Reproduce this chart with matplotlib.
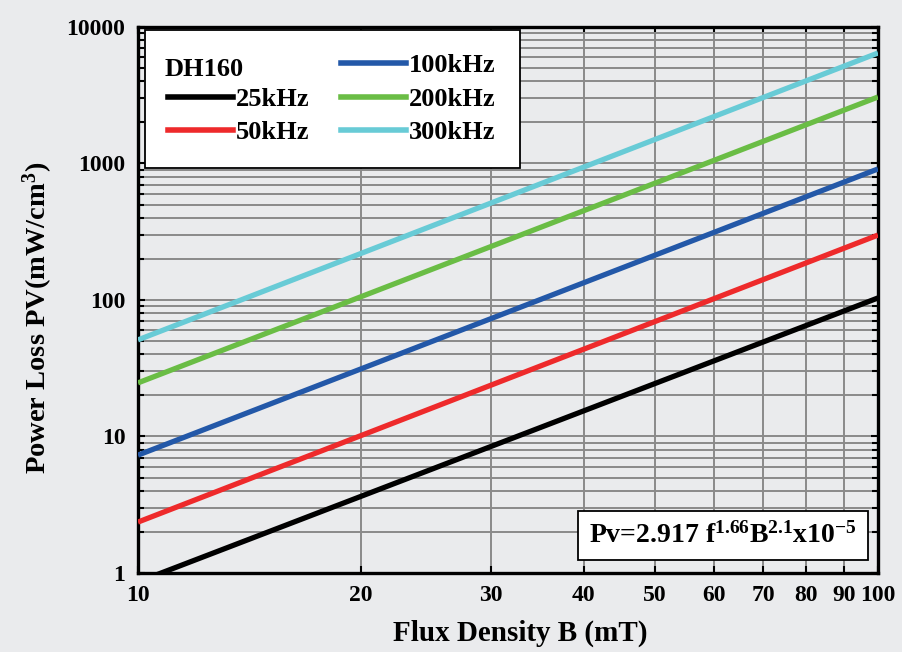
import matplotlib
matplotlib.use("Agg")
import numpy as np
import matplotlib.pyplot as plt
from matplotlib.lines import Line2D
from matplotlib.ticker import FixedLocator, FixedFormatter, NullLocator, LogLocator


# =========================================================
# Data
# =========================================================

flux_ends = [10, 100]

freq_labels = ["25kHz", "50kHz", "100kHz", "200kHz", "300kHz"]

loss_at_10 = [0.86, 2.36, 7.3, 24.7, 51]

loss_at_100 = [103.5, 299, 912, 3070, 6450]

line_colors = ["#000000", "#ee2a2b", "#2358a8", "#6abd45", "#68cbd6"]

x_ticks = [10, 20, 30, 40, 50, 60, 70, 80, 90, 100]

y_ticks = [1, 10, 100, 1000, 10000]


# =========================================================
# Style
# =========================================================

plt.rcParams["font.family"] = ["Liberation Serif", "DejaVu Serif"]
plt.rcParams["font.weight"] = "bold"
plt.rcParams["mathtext.fontset"] = "custom"
plt.rcParams["mathtext.rm"] = "Liberation Serif:bold"
plt.rcParams["mathtext.it"] = "Liberation Serif:bold"
plt.rcParams["mathtext.bf"] = "Liberation Serif:bold"

bg = "#eaebed"

fig = plt.figure(figsize=(9.03, 6.52), dpi=100, facecolor=bg)

ax = fig.add_axes([0.1528, 0.1212, 0.8195, 0.8374])
ax.set_facecolor(bg)

for i in range(len(freq_labels)):

    ax.plot(
        flux_ends,
        [loss_at_10[i], loss_at_100[i]],
        color=line_colors[i],
        linewidth=3.8,
        solid_capstyle="butt",
        zorder=3
    )

ax.set_xscale("log")
ax.set_yscale("log")
ax.set_xlim(10, 100)
ax.set_ylim(1, 10000)

ax.xaxis.set_major_locator(FixedLocator(x_ticks))
ax.xaxis.set_major_formatter(FixedFormatter([str(v) for v in x_ticks]))
ax.xaxis.set_minor_locator(NullLocator())

ax.yaxis.set_major_locator(FixedLocator(y_ticks))
ax.yaxis.set_major_formatter(FixedFormatter([str(v) for v in y_ticks]))
ax.yaxis.set_minor_locator(LogLocator(base=10, subs=np.arange(2, 10)))

ax.grid(True, which="major", color="#8a8a8a", linewidth=1.4, zorder=1)
ax.grid(True, which="minor", axis="y", color="#8a8a8a", linewidth=1.4, zorder=1)

ax.tick_params(
    which="both",
    direction="in",
    top=True,
    right=True,
    labelsize=17,
    pad=9,
    color="black"
)
ax.tick_params(which="major", length=5, width=1.5)
ax.tick_params(which="minor", length=4, width=1.5)

for s in ax.spines.values():
    s.set_linewidth(2.4)
    s.set_color("black")

fig.text(
    0.576, 0.029,
    "Flux Density B (mT)",
    fontsize=21,
    fontweight="bold",
    ha="center",
    va="center"
)

fig.text(
    0.042, 0.512,
    "Power Loss PV(mW/cm$^3$)",
    fontsize=20.5,
    fontweight="bold",
    rotation=90,
    ha="center",
    va="center"
)


# =========================================================
# Legend
# =========================================================

handles = [Line2D([], [], color="none")]
labels = [" "]

for i in range(len(freq_labels)):
    handles.append(Line2D([], [], color=line_colors[i], linewidth=4))
    labels.append(freq_labels[i])

leg = ax.legend(
    handles,
    labels,
    ncol=2,
    loc="upper left",
    bbox_to_anchor=(0.009, 0.994),
    fontsize=19,
    frameon=True,
    fancybox=False,
    edgecolor="black",
    facecolor="white",
    framealpha=1,
    handlelength=2.45,
    handletextpad=0.12,
    columnspacing=1.2,
    labelspacing=0.38,
    borderpad=0.9,
    borderaxespad=0
)
leg.get_frame().set_linewidth(1.3)
leg.set_zorder(5)

fig.text(
    0.182, 0.893,
    "DH160",
    fontsize=19,
    fontweight="bold",
    ha="left",
    va="center",
    zorder=6
)


# =========================================================
# Equation box
# =========================================================

ax.text(
    0.971, 0.069,
    "Pv=2.917 f$^{1.66}$B$^{2.1}$x10$^{-5}$",
    transform=ax.transAxes,
    fontsize=20,
    ha="right",
    va="center",
    zorder=6,
    bbox=dict(
        boxstyle="square,pad=0.4",
        facecolor="white",
        edgecolor="black",
        linewidth=1.3
    )
)

fig.savefig("out.png", dpi=100, facecolor=bg)
